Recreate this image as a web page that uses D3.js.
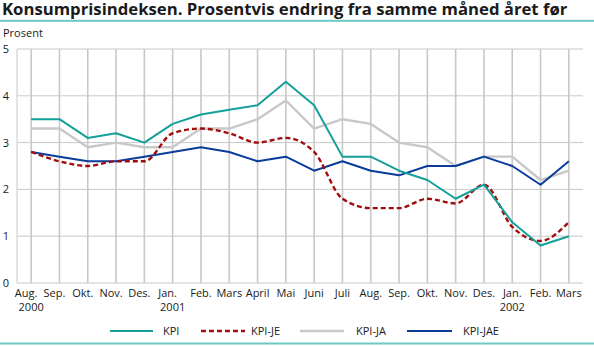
<!DOCTYPE html>
<html>
<head>
<meta charset="utf-8">
<script src="https://cdn.jsdelivr.net/npm/d3@7/dist/d3.min.js"></script>
<style>
  html, body { margin: 0; padding: 0; background: #fff; }
  svg { display: block; }
  text { font-family: "Open Sans", "DejaVu Sans", sans-serif; fill: #1a1a1a; }
</style>
</head>
<body>
<svg id="chart" width="594" height="346"></svg>
<script>
// ---- data ----
const months = ["Aug.", "Sep.", "Okt.", "Nov.", "Des.", "Jan.", "Feb.", "Mars", "April", "Mai",
                "Juni", "Juli", "Aug.", "Sep.", "Okt.", "Nov.", "Des.", "Jan.", "Feb.", "Mars"];
const years = ["2000", "", "", "", "", "2001", "", "", "", "", "", "", "", "", "", "", "", "2002", "", ""];
const kpi    = [3.5, 3.5, 3.1, 3.2, 3.0, 3.4, 3.6, 3.7, 3.8, 4.3, 3.8, 2.7, 2.7, 2.4, 2.2, 1.8, 2.1, 1.3, 0.8, 1.0];
const kpiJE  = [2.8, 2.6, 2.5, 2.6, 2.6, 3.2, 3.3, 3.2, 3.0, 3.1, 2.8, 1.8, 1.6, 1.6, 1.8, 1.7, 2.1, 1.2, 0.9, 1.3];
const kpiJA  = [3.3, 3.3, 2.9, 3.0, 2.9, 2.9, 3.3, 3.3, 3.5, 3.9, 3.3, 3.5, 3.4, 3.0, 2.9, 2.5, 2.7, 2.7, 2.2, 2.4];
const kpiJAE = [2.8, 2.7, 2.6, 2.6, 2.7, 2.8, 2.9, 2.8, 2.6, 2.7, 2.4, 2.6, 2.4, 2.3, 2.5, 2.5, 2.7, 2.5, 2.1, 2.6];
const yTicks = [0, 1, 2, 3, 4, 5];
const seriesNames = ["KPI", "KPI-JE", "KPI-JA", "KPI-JAE"];
const title = "Konsumprisindeksen. Prosentvis endring fra samme måned året før";
const yUnit = "Prosent";

// ---- layout ----
const W = 594, H = 346;
const plot = { left: 17, right: 583, top: 49, bottom: 283 };
const svg = d3.select("#chart");

const x = d3.scaleBand().domain(d3.range(months.length)).range([plot.left, plot.right]);
const cx = i => x(i) + x.bandwidth() / 2;
const y = d3.scaleLinear().domain([0, 5]).range([plot.bottom, plot.top]);

// title
const t = svg.append("text").attr("x", 2).attr("y", 15)
  .style("font-weight", "bold").style("font-size", "12px").text(title);
const tw = t.node().getComputedTextLength();
t.style("font-size", (12 * 566 / tw).toFixed(2) + "px");

// teal rules
const ruleColor = "#6cc9c6";
svg.append("rect").attr("x", 0).attr("y", 19.8).attr("width", W).attr("height", 2).attr("fill", ruleColor);
svg.append("rect").attr("x", 0).attr("y", 342.5).attr("width", W).attr("height", 2).attr("fill", ruleColor);

// unit label
svg.append("text").attr("x", 3).attr("y", 37).style("font-size", "11px").text(yUnit);

// grid
const grid = svg.append("g");
grid.selectAll("line.h").data(yTicks).join("line")
  .attr("x1", plot.left).attr("x2", plot.right)
  .attr("y1", d => y(d)).attr("y2", d => y(d))
  .attr("stroke", "#c8c8c8").attr("stroke-width", 1);
grid.selectAll("line.v").data(d3.range(months.length)).join("line")
  .attr("x1", d => cx(d)).attr("x2", d => cx(d))
  .attr("y1", plot.top).attr("y2", plot.bottom)
  .attr("stroke", "#c8c8c8").attr("stroke-width", 1.6);
grid.append("line").attr("x1", plot.left).attr("x2", plot.left)
  .attr("y1", plot.top).attr("y2", plot.bottom)
  .attr("stroke", "#c8c8c8").attr("stroke-width", 1);

// y axis labels
const yAxis = d3.axisLeft(y).tickValues(yTicks).tickSize(0).tickFormat(d3.format("d"));
const ya = svg.append("g").attr("transform", `translate(${plot.left - 8},0)`).call(yAxis);
ya.select(".domain").remove();
ya.selectAll("text").attr("x", 0).style("font-size", "11px")
  .style("font-family", "'Open Sans', sans-serif").attr("fill", "#1a1a1a");

// x axis labels (first-year month labels sit slightly left of their gridline, as in the reference)
const xa = svg.append("g");
xa.selectAll("text.m").data(months).join("text")
  .attr("x", (d, i) => cx(i) + (i < 6 ? -5 : 0)).attr("y", 297)
  .attr("text-anchor", "middle").style("font-size", "11px").text(d => d);
xa.selectAll("text.yr").data(years).join("text")
  .attr("x", (d, i) => cx(i)).attr("y", 311)
  .attr("text-anchor", "middle").style("font-size", "11px").text(d => d);

// series
const line = d3.line().x((d, i) => cx(i)).y(d => y(d));
const smooth = d3.line().x((d, i) => cx(i)).y(d => y(d)).curve(d3.curveMonotoneX);
const series = [
  { name: "KPI-JA", data: kpiJA, color: "#c8c8c8", width: 2.4, dash: null, gen: line },
  { name: "KPI-JAE", data: kpiJAE, color: "#0a3c9c", width: 2, dash: null, gen: line },
  { name: "KPI-JE", data: kpiJE, color: "#a00d0d", width: 2.4, dash: "5,3", gen: smooth },
  { name: "KPI", data: kpi, color: "#14a09a", width: 2, dash: null, gen: line }
];
svg.append("g").selectAll("path").data(series).join("path")
  .attr("d", s => s.gen(s.data))
  .attr("fill", "none").attr("stroke", s => s.color)
  .attr("stroke-width", s => s.width).attr("stroke-dasharray", s => s.dash)
  .attr("stroke-linejoin", "round");

// legend
const legendPos = [
  { line: [110, 153], text: 163 },
  { line: [201, 245], text: 251 },
  { line: [300, 344], text: 356 },
  { line: [407, 452], text: 463 }
];
const legendY = 331;
const lg = svg.append("g");
seriesNames.forEach((name, k) => {
  const s = series.find(s => s.name === name);
  const p = legendPos[k];
  lg.append("line").attr("x1", p.line[0]).attr("x2", p.line[1])
    .attr("y1", legendY).attr("y2", legendY)
    .attr("stroke", s.color).attr("stroke-width", s.width).attr("stroke-dasharray", s.dash);
  lg.append("text").attr("x", p.text).attr("y", legendY + 4).style("font-size", "11px").text(name);
});
</script>
</body>
</html>
